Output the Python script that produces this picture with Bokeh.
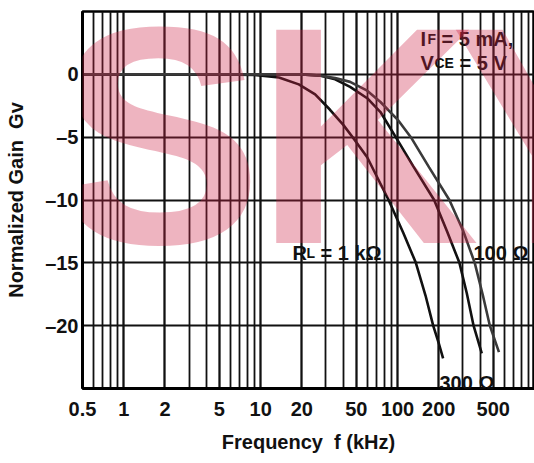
from bokeh.plotting import figure
from bokeh.models import FixedTicker, CustomJSTickFormatter, Label
from bokeh.embed import file_html
from bokeh.resources import INLINE

# ---- data ----
x_major = [0.5, 1, 2, 5, 10, 20, 50, 100, 200, 500]
x_minor = [0.6, 0.7, 0.8, 0.9, 1, 2, 3, 4, 5, 6, 7, 8, 9, 10, 20, 30, 40, 50, 60, 70, 80, 90,
           100, 200, 300, 400, 500, 600, 700, 800, 900]
y_major = [-20, -15, -10, -5, 0]

f_1k = [0.5, 5, 9, 13.6, 19, 25, 32, 40, 47, 60, 86, 110, 136, 160, 182, 200, 215]
g_1k = [0, 0, -0.05, -0.25, -0.8, -1.6, -2.8, -4.0, -5, -6.6, -10, -12.6, -15, -17.6, -20, -21.4, -22.6]

f_300 = [0.5, 10, 20, 27, 35, 45, 60, 75, 97, 130, 185, 230, 283, 320, 359, 412]
g_300 = [0, 0, 0, -0.1, -0.4, -1, -1.9, -3, -5, -7.3, -10, -12.5, -15, -17.4, -20, -22.2]

f_100 = [0.5, 10, 20, 27, 35, 45, 60, 75, 100, 125, 170, 239, 300, 366, 420, 472, 550]
g_100 = [0, 0, 0, -0.1, -0.3, -0.6, -1.3, -2.2, -3.6, -5, -7.4, -10, -12.4, -15, -17.6, -20, -22.1]

FONT = "Liberation Sans"

p = figure(width=534, height=463, x_axis_type="log", x_range=(0.5, 1000), y_range=(-25, 5),
           output_backend="svg", toolbar_location=None,
           min_border_left=82, min_border_right=0, min_border_top=11, min_border_bottom=75)
p.background_fill_color = "white"
p.border_fill_color = "white"
p.outline_line_color = "black"
p.outline_line_width = 2.5

# axes
p.xaxis.ticker = FixedTicker(ticks=x_major, minor_ticks=x_minor)
p.yaxis.ticker = FixedTicker(ticks=y_major, minor_ticks=[])
p.xaxis.formatter = CustomJSTickFormatter(code="return tick.toString();")
p.yaxis.formatter = CustomJSTickFormatter(code="return tick < 0 ? '\u2013' + Math.abs(tick) : tick.toString();")
for ax in (p.xaxis[0], p.yaxis[0]):
    ax.major_tick_line_color = None
    ax.minor_tick_line_color = None
    ax.major_tick_out = 0
    ax.major_tick_in = 0
    ax.minor_tick_out = 0
    ax.minor_tick_in = 0
    ax.axis_line_color = "black"
    ax.axis_line_width = 3
    ax.major_label_text_font = FONT
    ax.major_label_text_font_style = "bold"
    ax.major_label_text_font_size = "20px"
    ax.major_label_text_color = "#111111"
    ax.axis_label_text_font = FONT
    ax.axis_label_text_font_style = "bold"
    ax.axis_label_text_font_size = "20px"
    ax.axis_label_text_color = "#111111"

p.xaxis.major_label_standoff = 13
p.yaxis.major_label_standoff = 4
p.xaxis.axis_label = "Frequency\u00a0\u00a0f (kHz)"
p.xaxis.axis_label_standoff = 12
p.yaxis.axis_label = "Normalized Gain\u00a0\u00a0Gv"
p.yaxis.axis_label_standoff = 15

# grid
p.xgrid.grid_line_color = "#111111"
p.xgrid.grid_line_width = 1.8
p.xgrid.minor_grid_line_color = "#111111"
p.xgrid.minor_grid_line_width = 1.8
p.ygrid.grid_line_color = "#111111"
p.ygrid.grid_line_width = 1.8

# curves
p.line(f_1k, g_1k, line_color="#111111", line_width=2.6)
p.line(f_300, g_300, line_color="#111111", line_width=2.6)
p.line(f_100, g_100, line_color="#3a3a3a", line_width=2.6)

# helpers: reference pixel -> data
def px2x(px):
    return 0.5 * 10 ** ((px - 82) / 452 * 3.30103)

def py2y(py):
    return 5 - (py - 11) / 377 * 30

def txt(px, py, s, size, level="annotation", **kw):
    lab = Label(x=px2x(px), y=py2y(py), text=s, text_font=FONT, text_font_style="bold",
                text_font_size=size, text_color=kw.pop("color", "#111111"),
                text_baseline="alphabetic", text_align="left", level=level, **kw)
    p.add_layout(lab)

# annotations
txt(420, 38, "I", "20px")
txt(427, 38, "F", "14px")
txt(441, 38, "= 5 mA,", "20px")
txt(420, 62, "V", "20px")
txt(434, 62, "CE", "14px")
txt(459, 62, "= 5 V", "20px")
txt(292, 252, "R", "20px")
txt(306, 252, "L", "14px")
txt(320, 252, "= 1 k\u03a9", "20px")
txt(473, 252, "100 \u03a9", "20px")
txt(439, 382, "300 \u03a9", "20px")

# watermark
for px, s in ((55, "S"), (255, "K"), (450, "Y")):
    txt(px, 135, s, "310px", level="overlay", color=(205, 35, 70), text_alpha=0.34)

open("out.html", "w", encoding="utf-8").write(file_html(p, INLINE))
